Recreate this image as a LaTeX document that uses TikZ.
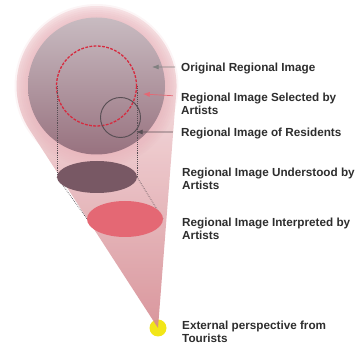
\documentclass[tikz,border=0pt]{standalone}
\usepackage{fontspec}
\setsansfont{Liberation Sans}
\usepackage{xcolor}
\usetikzlibrary{positioning,arrows.meta}

\definecolor{halotop}{RGB}{252,240,241}
\definecolor{conebot}{RGB}{212,136,143}
\definecolor{halomid}{RGB}{232,178,186}
\definecolor{orbtop}{RGB}{200,187,193}
\definecolor{orbbot}{RGB}{152,114,127}
\definecolor{selred}{RGB}{214,42,62}
\definecolor{resgray}{RGB}{88,78,84}
\definecolor{undcol}{RGB}{120,88,100}
\definecolor{intcol}{RGB}{228,104,116}
\definecolor{eyecol}{RGB}{242,230,24}
\definecolor{labelgray}{RGB}{45,45,45}

\tikzset{
	lbl/.style={anchor=base west, align=left, inner sep=0pt, text=labelgray},
	proj/.style={densely dotted, line width=0.6pt, resgray}
}

\begin{document}
\begin{tikzpicture}[x=0.03cm, y=-0.03cm, >=Latex,
		font=\sffamily\bfseries\fontsize{10}{11.5}\selectfont]
		\useasboundingbox (0,0) rectangle (359,347);
		\coordinate (centre) at (96.5,86);
		\coordinate (eye) at (158,328);
		\coordinate (res) at (120.5,117.5);

		% eye and cone of view
		\fill[eyecol] (eye) circle (8.5);
		\shade[top color=halotop, bottom color=conebot, fill opacity=0.88]
			(eye) -- (176.3,92.2) arc[start angle=4.44, end angle=-212.96, radius=80] -- cycle;
		\foreach \r in {70,72,...,82}
			\fill[halomid, fill opacity=0.13] (centre) circle (\r);

		% original image and the two circles
		\shade[top color=orbtop, bottom color=orbbot] (centre) circle (68.5);
		\draw[selred, line width=1.1pt, dash pattern=on 2.4pt off 1.2pt] (centre) circle (40);
		\draw[resgray, line width=0.8pt] (res) circle (20);

		% projection down
		\coordinate (selL) at (57,86);
		\coordinate (selR) at (137,86);
		\coordinate (undL) at (57,177);
		\coordinate (undR) at (137,177);
		\coordinate (intL) at (87,219);
		\coordinate (intR) at (163,219);
		\draw[proj] (selL) -- (undL);
		\draw[proj] (selR) -- (undR);
		\draw[proj] (undL) -- (intL);
		\draw[proj] (undR) -- (intR);
		\fill[undcol] (97,177) ellipse [x radius=40, y radius=16];
		\fill[intcol] (125,219) ellipse [x radius=38, y radius=18];

		% labels (base = last line)
		\node[lbl] (orig) at (181,72) {Original Regional Image};
		\node[lbl] (sel) at (181,115) {Regional Image Selected by\\Artists};
		\node[lbl] (resid) at (181,137) {Regional Image of Residents};
		\node[lbl] (und) at (182,190) {Regional Image Understood by\\Artists};
		\node[lbl] (intp) at (182,240) {Regional Image Interpreted by\\Artists};
		\node[lbl] (ext) at (182,343) {External perspective from\\Tourists};

		\coordinate (origpt) at (152,67);
		\coordinate (selpt) at (143,94);
		\coordinate (respt) at (136,132);
		\draw[->, gray, line width=0.6pt] ([xshift=-5pt, yshift=4.3pt]orig.base west) -- (origpt);
		\draw[->, intcol, line width=0.6pt] ([xshift=-7pt, yshift=-2.5pt]sel.north west) -- (selpt);
		\draw[->, resgray, line width=0.6pt] ([xshift=-7pt, yshift=4.3pt]resid.base west) -- (respt);
	\end{tikzpicture}
\end{document}
